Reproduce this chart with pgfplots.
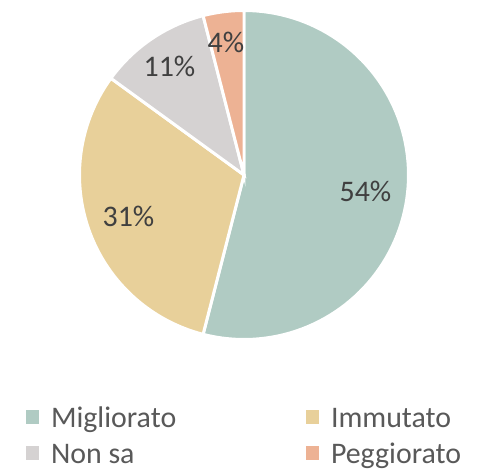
\documentclass[border=0pt]{standalone}
\usepackage{pgfplots}
\pgfplotsset{compat=1.18}
\usepackage{fontspec}
\setmainfont{Carlito}
\definecolor{cM}{HTML}{B0CBC3}
\definecolor{cI}{HTML}{E8D09A}
\definecolor{cN}{HTML}{D5D2D2}
\definecolor{cP}{HTML}{EDB294}
\definecolor{txt}{HTML}{404040}
\definecolor{legtxt}{HTML}{595959}
% values (percent)
\def\vM{54}\def\vI{31}\def\vN{11}\def\vP{4}
\def\cx{244}\def\cy{296}\def\R{164.5}
\begin{document}
\begin{tikzpicture}
\pgfmathsetmacro{\aA}{90}
\pgfmathsetmacro{\aB}{\aA-3.6*\vM}
\pgfmathsetmacro{\aC}{\aB-3.6*\vI}
\pgfmathsetmacro{\aD}{\aC-3.6*\vN}
\pgfmathsetmacro{\aE}{\aD-3.6*\vP}
\begin{axis}[
  width=482bp, height=471bp, scale only axis,
  xmin=0, xmax=482, ymin=0, ymax=471,
  axis lines=box, axis line style={draw=none}, ticks=none, clip=false,
  legend columns=2,
  legend cell align=left,
  legend style={at={(axis cs:26,65)}, anchor=north west, draw=none, fill=none,
    inner sep=0pt, outer sep=0pt,
    font=\fontsize{30}{35}\selectfont,
    nodes={inner sep=0pt, outer sep=0pt, text height=21bp, text depth=6bp, text=legtxt},
    row sep=9bp,
    /tikz/every odd column/.append style={column sep=12bp},
    /tikz/every even column/.append style={column sep=0bp}},
]
\addplot[fill=cM, draw=white, line width=3pt, domain=\aA:\aB, samples=90, variable=\t,
  area legend, legend image code/.code={\fill[cM,draw=none] (0bp,-4bp) rectangle (13bp,9bp);}]
  ({\cx+\R*cos(\t)},{\cy+\R*sin(\t)}) -- (axis cs:\cx,\cy) -- cycle;
\addlegendentry{\makebox[255bp][l]{Migliorato}}
\addplot[fill=cI, draw=white, line width=3pt, domain=\aB:\aC, samples=60, variable=\t,
  area legend, legend image code/.code={\fill[cI,draw=none] (0bp,-4bp) rectangle (13bp,9bp);}]
  ({\cx+\R*cos(\t)},{\cy+\R*sin(\t)}) -- (axis cs:\cx,\cy) -- cycle;
\addlegendentry{Immutato}
\addplot[fill=cN, draw=white, line width=3pt, domain=\aC:\aD, samples=30, variable=\t,
  area legend, legend image code/.code={\fill[cN,draw=none] (0bp,-4bp) rectangle (13bp,9bp);}]
  ({\cx+\R*cos(\t)},{\cy+\R*sin(\t)}) -- (axis cs:\cx,\cy) -- cycle;
\addlegendentry{\makebox[255bp][l]{Non sa}}
\addplot[fill=cP, draw=white, line width=3pt, domain=\aD:\aE, samples=15, variable=\t,
  area legend, legend image code/.code={\fill[cP,draw=none] (0bp,-4bp) rectangle (13bp,9bp);}]
  ({\cx+\R*cos(\t)},{\cy+\R*sin(\t)}) -- (axis cs:\cx,\cy) -- cycle;
\addlegendentry{Peggiorato}
\begin{scope}[every node/.style={font=\fontsize{30}{35}\selectfont, text=txt, inner sep=0pt}]
\node at (axis cs:365.5,280) {\vM\%};
\node at (axis cs:128.5,255) {\vI\%};
\node at (axis cs:169.5,404.5) {\vN\%};
\node at (axis cs:226,428.5) {\vP\%};
\end{scope}
\end{axis}
\end{tikzpicture}
\end{document}
